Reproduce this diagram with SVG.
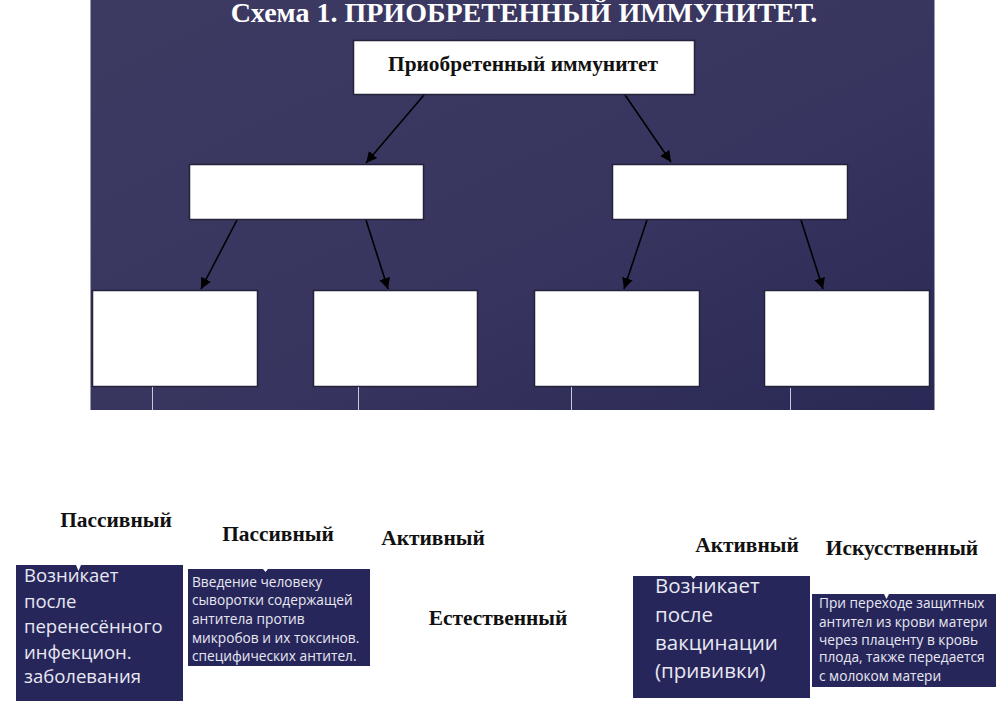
<svg xmlns="http://www.w3.org/2000/svg" width="1000" height="707" viewBox="0 0 1000 707">
<defs>
<marker id="ah" markerWidth="12" markerHeight="14" refX="11" refY="5.500" orient="auto" markerUnits="userSpaceOnUse"><path d="M0,0 L11,5.500 L0,11 z" fill="#000"/></marker>
<linearGradient id="bg" x1="0" y1="0" x2="1" y2="1"><stop offset="0" stop-color="#3d3a62"/><stop offset="0.6" stop-color="#37345f"/><stop offset="1" stop-color="#2a2955"/></linearGradient>
</defs>
<style>
.box{fill:#fff;stroke:#23233a;stroke-width:1.500}
.lbl{font-family:"Liberation Serif",serif;font-weight:bold;fill:#111;font-size:21.400px}
.conn{stroke:#000;stroke-width:1.600;fill:none;marker-end:url(#ah)}
.panel{fill:#27265a}
.big{font-family:"Open Sans","Noto Sans",sans-serif;font-size:18.500px;fill:#e8e8f2}
.big2{font-family:"Open Sans","Noto Sans",sans-serif;font-size:20.500px;fill:#e8e8f2}
.small{font-family:"Open Sans","Noto Sans",sans-serif;font-size:13.700px;fill:#e8e8f2}
.tick{stroke:#c8c8dc;stroke-width:1}
.notch{fill:#fff}
</style>
<rect width="1000" height="707" fill="#fff"/>
<rect id="background" x="90.500" y="0" width="844" height="410" fill="url(#bg)"/>
<text id="title" x="524" y="22" text-anchor="middle" font-family="Liberation Serif, serif" font-weight="bold" font-size="28" fill="#fff">Схема 1. ПРИОБРЕТЕННЫЙ ИММУНИТЕТ.</text>
<g id="connectors">
<line class="conn" x1="424" y1="95" x2="366" y2="163"/>
<line class="conn" x1="625" y1="95" x2="671" y2="162"/>
<line class="conn" x1="237" y1="220" x2="201" y2="289"/>
<line class="conn" x1="366" y1="220" x2="388" y2="289"/>
<line class="conn" x1="647" y1="220" x2="624" y2="289"/>
<line class="conn" x1="801" y1="220" x2="823" y2="289"/>
</g>
<g id="n-root"><rect class="box" x="353.500" y="40.500" width="341" height="54"/><text class="lbl" x="523" y="71" text-anchor="middle">Приобретенный иммунитет</text></g>
<g id="n-left"><rect class="box" x="189.500" y="164.500" width="234" height="55"/></g>
<g id="n-right"><rect class="box" x="612.500" y="164.500" width="235" height="55"/></g>
<g id="n-a"><rect class="box" x="92.500" y="290.500" width="165" height="96"/><line class="tick" x1="152.500" y1="387" x2="152.500" y2="410"/></g>
<g id="n-b"><rect class="box" x="313.500" y="290.500" width="164" height="96"/><line class="tick" x1="358.500" y1="387" x2="358.500" y2="410"/></g>
<g id="n-c"><rect class="box" x="534.500" y="290.500" width="165" height="96"/><line class="tick" x1="571.500" y1="387" x2="571.500" y2="410"/></g>
<g id="n-d"><rect class="box" x="764.500" y="290.500" width="165" height="96"/><line class="tick" x1="790.500" y1="388" x2="790.500" y2="410"/></g>
<g id="labels">
<text class="lbl" x="116" y="527" text-anchor="middle">Пассивный</text>
<text class="lbl" x="278" y="541" text-anchor="middle">Пассивный</text>
<text class="lbl" x="433" y="545" text-anchor="middle">Активный</text>
<text class="lbl" x="498" y="625" text-anchor="middle">Естественный</text>
<text class="lbl" x="747" y="552" text-anchor="middle">Активный</text>
<text class="lbl" x="902" y="555" text-anchor="middle">Искусственный</text>
</g>
<g id="p1"><rect class="panel" x="16" y="565" width="167" height="136"/>
<polygon class="notch" points="76,565 81,565 78.500,571"/>
<text class="big"><tspan x="24" y="582">Возникает</tspan><tspan x="24" y="608">после</tspan><tspan x="24" y="633">перенесённого</tspan><tspan x="24" y="659">инфекцион.</tspan><tspan x="24" y="683">заболевания</tspan></text></g>
<g id="p2"><rect class="panel" x="188" y="569" width="182" height="97"/>
<polygon class="notch" points="263,569 268,569 265.500,572"/>
<text class="small"><tspan x="192" y="587">Введение человеку</tspan><tspan x="192" y="605">сыворотки содержащей</tspan><tspan x="192" y="624">антитела против</tspan><tspan x="192" y="643">микробов и их токсинов.</tspan><tspan x="192" y="661">специфических антител.</tspan></text></g>
<g id="p3"><rect class="panel" x="633" y="576" width="177" height="122"/>
<polygon class="notch" points="691,576 696,576 693.500,579"/>
<text class="big2"><tspan x="655" y="593">Возникает</tspan><tspan x="655" y="622">после</tspan><tspan x="655" y="650">вакцинации</tspan><tspan x="655" y="678">(прививки)</tspan></text></g>
<g id="p4"><rect class="panel" x="812" y="594" width="184" height="93"/>
<polygon class="notch" points="884,594 889,594 886.500,599"/>
<text class="small"><tspan x="819" y="608">При переходе защитных</tspan><tspan x="819" y="627">антител из крови матери</tspan><tspan x="819" y="645">через плаценту в кровь</tspan><tspan x="819" y="662">плода,  также передается</tspan><tspan x="819" y="681">с молоком матери</tspan></text></g>
</svg>
